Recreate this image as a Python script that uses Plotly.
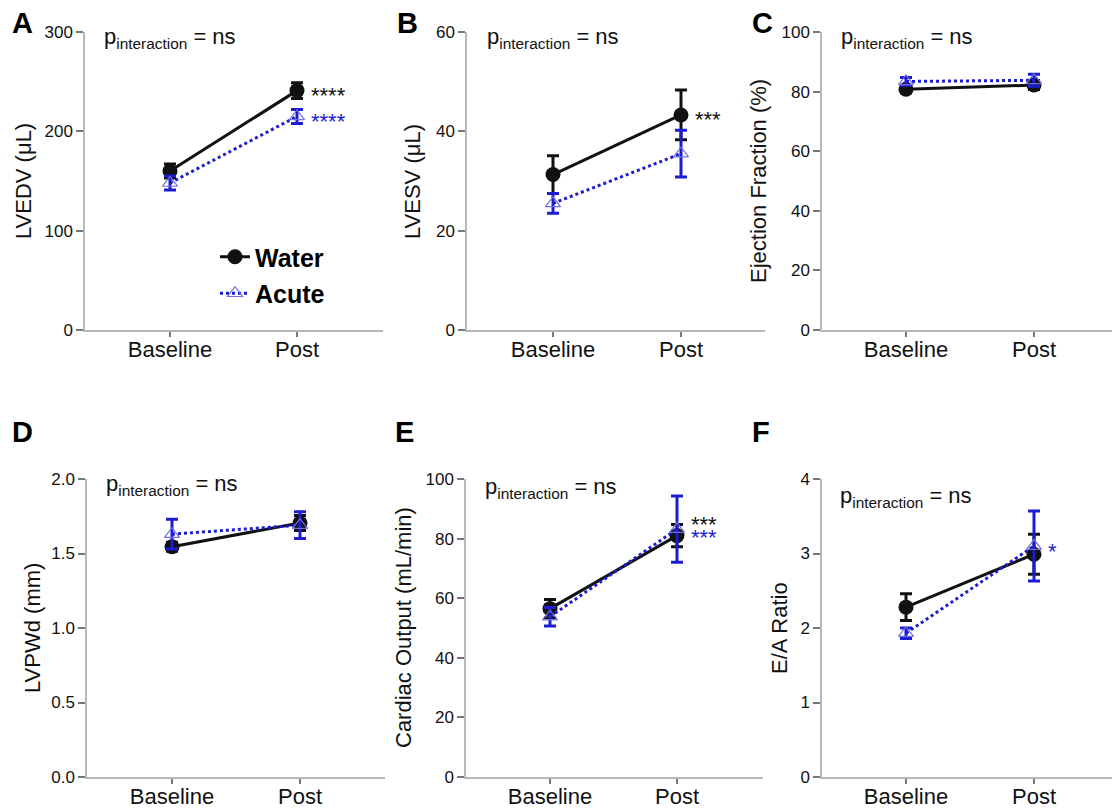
import plotly.graph_objects as go

# ---------------- data ----------------
categories = ["Baseline", "Post"]
panel_letters = ["A", "B", "C", "D", "E", "F"]
y_titles = ["LVEDV (μL)", "LVESV (μL)", "Ejection Fraction (%)",
            "LVPWd (mm)", "Cardiac Output (mL/min)", "E/A Ratio"]
y_ranges = [[0, 300], [0, 60], [0, 100], [0, 2], [0, 100], [0, 4]]
y_dticks = [100, 20, 20, 0.5, 20, 1]

water_lvedv = [160, 241]
water_lvedv_err = [7, 8]
acute_lvedv = [148, 215]
acute_lvedv_err = [7, 7]

water_lvesv = [31.3, 43.3]
water_lvesv_err = [3.8, 5.0]
acute_lvesv = [25.5, 35.5]
acute_lvesv_err = [2.0, 4.7]

water_ef = [80.8, 82.2]
water_ef_err = [1.2, 1.5]
acute_ef = [83.4, 83.8]
acute_ef_err = [1.3, 2.0]

water_lvpwd = [1.545, 1.705]
water_lvpwd_err = [0.03, 0.05]
acute_lvpwd = [1.63, 1.69]
acute_lvpwd_err = [0.10, 0.09]

water_co = [56.5, 81.0]
water_co_err = [3.1, 3.7]
acute_co = [53.8, 83.2]
acute_co_err = [3.1, 11.1]

water_ea = [2.28, 2.99]
water_ea_err = [0.18, 0.27]
acute_ea = [1.93, 3.10]
acute_ea_err = [0.07, 0.47]

water_means = [water_lvedv, water_lvesv, water_ef, water_lvpwd, water_co, water_ea]
water_errs = [water_lvedv_err, water_lvesv_err, water_ef_err, water_lvpwd_err, water_co_err, water_ea_err]
acute_means = [acute_lvedv, acute_lvesv, acute_ef, acute_lvpwd, acute_co, acute_ea]
acute_errs = [acute_lvedv_err, acute_lvesv_err, acute_ef_err, acute_lvpwd_err, acute_co_err, acute_ea_err]

# significance labels: (panel index, group, text)
stars = [(0, "water", "****"), (0, "acute", "****"), (1, "water", "***"),
         (4, "water", "***"), (4, "acute", "***"), (5, "acute", "*")]

# ---------------- layout constants ----------------
W, H = 1112, 809
BLACK = "#111111"
BLUE = "#1c1cd2"
TRI = "#7070e0"
FONT = "Liberation Sans, Arial, sans-serif"


def fx(px):
    return px / W


def fy(py):
    return 1 - py / H


# pixel geometry of each panel: axis start, baseline x, post x, axis end, top y, bottom y
geom = [
    (85, 170, 297, 383, 32, 330),
    (467, 553, 681, 765, 32, 330),
    (822, 906, 1034, 1112, 32, 330),
    (87, 172, 300, 385, 479, 777),
    (466, 550, 677, 763, 479, 777),
    (822, 906, 1034, 1112, 479, 777),
]
ytitle_x = [23, 412, 758, 32, 403, 779]
letter_pos = [(22, 23), (407, 23), (762, 23), (22, 432), (404, 432), (761, 432)]
pint_pos = [(102, 38), (485, 38), (839, 38), (104, 485), (483, 488), (838, 497)]
star_yshift = [-5, -5, -5, 11, -8, -5]   # pixel nudges for the star labels

fig = go.Figure()
layout = {}
annotations = []

for i in range(6):
    x0, xb, xp, xe, yt, yb = geom[i]
    unit = xp - xb
    sfx = "" if i == 0 else str(i + 1)
    xa, ya = "x" + sfx, "y" + sfx

    fig.add_trace(go.Scatter(
        x=categories, y=water_means[i], xaxis=xa, yaxis=ya,
        mode="lines+markers", name="Water", legendgroup="w",
        showlegend=(i == 0), hoverinfo="skip",
        line=dict(color=BLACK, width=3),
        marker=dict(symbol="circle", size=15, color=BLACK),
        error_y=dict(type="data", array=water_errs[i], color=BLACK, thickness=3, width=6),
    ))
    fig.add_trace(go.Scatter(
        x=categories, y=acute_means[i], xaxis=xa, yaxis=ya,
        mode="lines+markers", name="Acute", legendgroup="a",
        showlegend=(i == 0), hoverinfo="skip",
        line=dict(color=BLUE, width=3, dash="dot"),
        marker=dict(symbol="triangle-up-open", size=13, color=TRI, line=dict(width=1.2)),
        error_y=dict(type="data", array=acute_errs[i], color=BLUE, thickness=3, width=6),
    ))

    layout["xaxis" + sfx] = dict(
        domain=[fx(x0), fx(xe)], anchor=ya, type="category", automargin=False,
        range=[-(xb - x0) / unit, (xe - xb) / unit],
        showline=True, linecolor="#b8b8b8", linewidth=1.5,
        ticks="outside", ticklen=5, tickcolor="#777", tickwidth=1.5,
        ticklabelstandoff=-6,
        tickfont=dict(size=22, color="#111", family=FONT),
        showgrid=False, zeroline=False, fixedrange=True,
    )
    layout["yaxis" + sfx] = dict(
        domain=[fy(yb), fy(yt)], anchor=xa, automargin=False,
        range=y_ranges[i], dtick=y_dticks[i], tick0=0,
        tickformat=".1f" if i == 3 else "d",
        showline=True, linecolor="#b8b8b8", linewidth=1.5,
        ticks="outside", ticklen=7, tickcolor="#777", tickwidth=1.5,
        tickfont=dict(size=17, color="#111", family=FONT),
        showgrid=False, zeroline=False, fixedrange=True,
    )

    annotations.append(dict(
        text=y_titles[i], xref="paper", yref="paper",
        x=fx(ytitle_x[i]), y=fy((yt + yb) / 2), textangle=-90,
        showarrow=False, xanchor="center", yanchor="middle",
        font=dict(size=22, color="#111", family=FONT)))
    lx, ly = letter_pos[i]
    annotations.append(dict(
        text="<b>%s</b>" % panel_letters[i], xref="paper", yref="paper",
        x=fx(lx), y=fy(ly), showarrow=False, xanchor="center", yanchor="middle",
        font=dict(size=29, color="#000", family=FONT)))
    px, py = pint_pos[i]
    annotations.append(dict(
        text="p<sub>interaction</sub> = ns", xref="paper", yref="paper",
        x=fx(px), y=fy(py), showarrow=False, xanchor="left", yanchor="middle",
        font=dict(size=22, color="#111", family=FONT)))

for k, (pi, grp, txt) in enumerate(stars):
    sfx = "" if pi == 0 else str(pi + 1)
    vals = water_means[pi] if grp == "water" else acute_means[pi]
    annotations.append(dict(
        text=txt, xref="x" + sfx, yref="y" + sfx, x=1, y=vals[1],
        xanchor="left", yanchor="middle", xshift=12, yshift=star_yshift[k], showarrow=False,
        font=dict(size=22, color=BLACK if grp == "water" else BLUE, family=FONT)))

layout.update(dict(
    template="none",
    width=W, height=H, margin=dict(l=0, r=0, t=0, b=0, autoexpand=False),
    paper_bgcolor="white", plot_bgcolor="white",
    annotations=annotations,
    showlegend=True,
    legend=dict(x=fx(215), y=fy(234), xanchor="left", yanchor="top",
                font=dict(size=25, color="#000", family=FONT, weight="bold"),
                bgcolor="rgba(0,0,0,0)", tracegroupgap=1, traceorder="grouped",
                itemwidth=30),
))
fig.update_layout(**layout)
fig.write_html("out.html")
